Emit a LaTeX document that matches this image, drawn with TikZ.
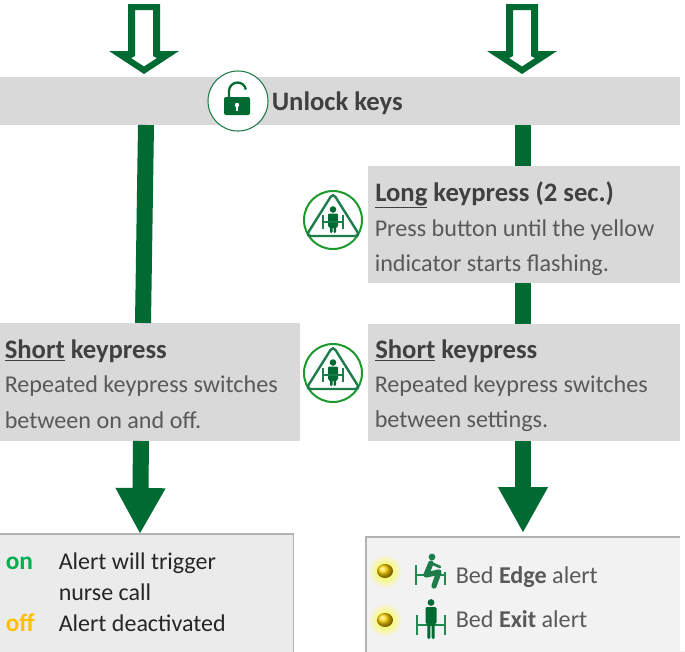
\documentclass[tikz,border=0pt]{standalone}
\usepackage{fontspec}
\setmainfont{Carlito}
\usetikzlibrary{arrows.meta}
\definecolor{dgreen}{HTML}{006A33}
\definecolor{igreen}{HTML}{1E7B4B}
\definecolor{bgreen}{HTML}{1F8A52}
\definecolor{rgreen}{HTML}{1C9A2E}
\definecolor{barg}{HTML}{D9D9D9}
\definecolor{headc}{HTML}{404040}
\definecolor{bodyc}{HTML}{595959}
\definecolor{panelr}{HTML}{F2F2F2}
\tikzset{
  graybox/.style={fill=barg,inner sep=0pt,outer sep=0pt,anchor=north west},
  headtxt/.style={anchor=base west,inner sep=0pt,text=headc,font=\fontsize{20}{22}\selectfont\bfseries},
  bodytxt/.style={anchor=base west,inner sep=0pt,text=bodyc,font=\fontsize{18.1}{22}\selectfont},
  listtxt/.style={anchor=base west,inner sep=0pt,text=black!85,font=\fontsize{18}{22}\selectfont},
  trunk/.style={draw=dgreen,line width=12pt},
  downarrow/.style={draw=dgreen,line width=12pt,-{Triangle[length=34.5pt,width=35pt,fill=dgreen]}},
  hollow/.pic={
    \fill[dgreen,even odd rule] (-16,4)--(16,4)--(16,51)--(35,51)--(0,74)--(-35,51)--(-16,51)--cycle
      (-9,10)--(-9,56)--(-13,58)--(0,66.5)--(13,58)--(9,56)--(9,10)--cycle;
  },
  bedperson/.pic={
    \draw[bgreen,line width=2pt] (-14,-3)--(-14,17) (14,-3)--(14,17) (-14,7)--(14,7);
    \fill[dgreen] (0,-15.5) circle (3.4);
    \fill[dgreen,rounded corners=1pt] (-5.5,-11)--(5.5,-11)--(5.5,6)--(3.6,6)--(3.6,21)--(0.7,21)--(0.7,7)--(-0.7,7)--(-0.7,21)--(-3.6,21)--(-3.6,6)--(-5.5,6)--cycle;
  },
  bedpersonsit/.pic={
    \draw[bgreen,line width=2pt] (-14,-6)--(-14,14) (15,1)--(15,14) (-14,4)--(15,4);
    \fill[igreen] (2,-14) circle (3.4);
    \draw[igreen,line width=4pt,line join=round,line cap=round] (1,-8)--(-4,4)--(9,1)--(4,15);
    \draw[igreen,line width=2pt,line join=round,line cap=round] (1,-8)--(10,-4);
  },
  alerticon/.pic={
    \fill[white] (-29,-33) rectangle (33,33);
    \draw[rgreen,line width=1.5pt,fill=white] (0,0) circle (29);
    \draw[igreen,line width=1.8pt,rounded corners=3.5pt] (0,-27)--(27,16)--(-27,16)--cycle;
    \fill[dgreen] (0,-10.5) circle (3.3);
    \fill[dgreen,rounded corners=.8pt] (-5,-6.5)--(5,-6.5)--(5,7)--(3,7)--(3,13)--(.5,13)--(.5,7)--(-.5,7)--(-.5,13)--(-3,13)--(-3,7)--(-5,7)--cycle;
    \draw[igreen,line width=1.2pt] (-10,-5)--(-10,9) (10,-5)--(10,9) (-10,2)--(10,2);
  },
  led/.pic={
    \shade[inner color=yellow!85,outer color=panelr] (0,0) circle (17);
    \shade[ball color=yellow!65!orange] (0,0) ellipse (8 and 7);
  }
}
\begin{document}
\begin{tikzpicture}[x=0.75pt,y=-0.75pt]
\useasboundingbox (0,0) rectangle (685,651);
% boxes
\node[graybox,minimum width=510pt,minimum height=36pt] (bar) at (0,77) {};
\node[graybox,minimum width=234pt,minimum height=87.75pt] (longbox) at (368,166) {};
\node[graybox,minimum width=225pt,minimum height=88.5pt] (shortL) at (0,323) {};
\node[graybox,minimum width=234pt,minimum height=87.75pt] (shortR) at (368,324) {};
\node[anchor=north west,inner sep=0pt,outer sep=0pt,fill=black!8,draw=black!30,line width=.9pt,minimum width=221pt,minimum height=92pt] (listL) at (-1,534) {};
\node[anchor=north west,inner sep=0pt,outer sep=0pt,fill=panelr,draw=black!30,line width=.9pt,minimum width=245pt,minimum height=90pt] (listR) at (366,537) {};
\fill[white] (680,530) rectangle (685,651);
% connectors
\coordinate (a1) at (146,125); \coordinate (a2) at (143,323);
\coordinate (a3) at (141,441); \coordinate (a4) at (140,534);
\coordinate (b1) at (523,125); \coordinate (b2) at (523,166);
\coordinate (b3) at (523,283); \coordinate (b4) at (523,324);
\coordinate (b5) at (523,441); \coordinate (b6) at (523,533);
\draw[trunk] (a1)--(a2);
\draw[trunk] (b1)--(b2);
\draw[trunk] (b3)--(b4);
\draw[downarrow] (a3)--(a4);
\draw[downarrow] (b5)--(b6);
\pic at (144,0) {hollow};
\pic at (522,0) {hollow};
% lock
\node[circle,draw=igreen,fill=white,line width=.8pt,minimum size=45pt,inner sep=0pt] (lock) at (238,101) {};
\draw[dgreen,line width=1.7pt] (229,98)--(229,91) arc[start angle=180,end angle=350,radius=8.5];
\fill[dgreen,rounded corners=1.5pt] (224,97) rectangle (250,115);
\fill[white] (237,105) circle (2.2);
\fill[white] (235.8,105) rectangle (238.2,111);
\node[headtxt] (unlock) at (271.5,110) {Unlock keys};
% icons
\pic at (333,220) {alerticon};
\pic at (333,373) {alerticon};
% text
\node[headtxt] (t1) at (375,201) {\underline{Long} keypress (2 sec.)};
\node[bodytxt] (t2) at (374.5,236) {Press button until the yellow};
\node[bodytxt] (t3) at (374.5,271) {indicator starts flashing.};
\node[headtxt] (t4) at (4.5,358) {\underline{Short} keypress};
\node[bodytxt] (t5) at (4.5,392.5) {Repeated keypress switches};
\node[bodytxt] (t6) at (4.5,428) {between on and off.};
\node[headtxt] (t7) at (375,358) {\underline{Short} keypress};
\node[bodytxt] (t8) at (374.5,392.5) {Repeated keypress switches};
\node[bodytxt] (t9) at (374.5,427) {between settings.};
\node[listtxt,text={rgb,255:red,0;green,176;blue,80},font=\fontsize{19}{22}\selectfont\bfseries] (on) at (5.5,569) {on};
\node[listtxt] (l1) at (58.5,569) {Alert will trigger};
\node[listtxt] (l2) at (58.5,600) {nurse call};
\node[listtxt,text={rgb,255:red,255;green,192;blue,0},font=\fontsize{19}{22}\selectfont\bfseries] (off) at (5.5,631) {off};
\node[listtxt] (l3) at (58.5,631) {Alert deactivated};
\pic at (385,571) {led};
\pic at (385,620) {led};
\pic at (430,571) {bedpersonsit};
\pic at (431,618) {bedperson};
\node[bodytxt] (e1) at (455.5,583) {Bed \textbf{Edge} alert};
\node[bodytxt] (e2) at (455.5,627) {Bed \textbf{Exit} alert};
\end{tikzpicture}
\end{document}
